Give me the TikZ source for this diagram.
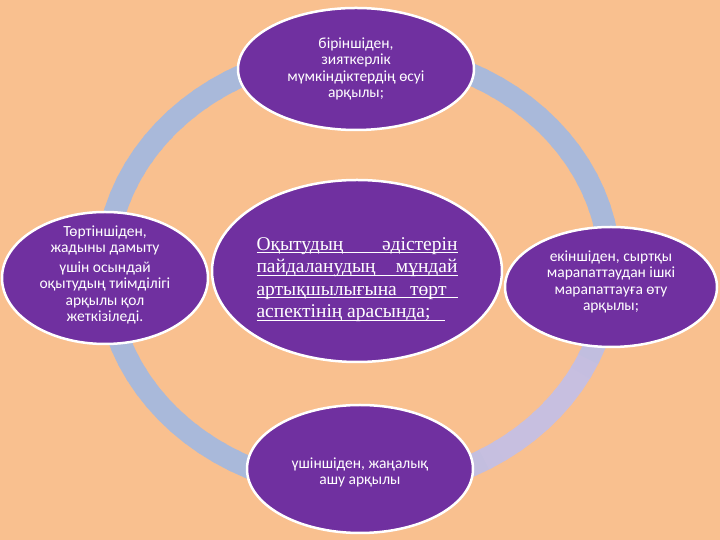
\documentclass[tikz,border=0pt]{standalone}
\usepackage{fontspec}
\setmainfont{Carlito}
\newfontfamily\serifcyr{Liberation Serif}
\usetikzlibrary{shapes.geometric}

% Underlined lines of the centre text
\newcommand{\ulwide}[2]{\makebox[#1][s]{#2}\llap{\rule[-3pt]{#1}{0.8pt}}}
\newcommand{\ulpart}[2]{\makebox[#1][l]{#2}\llap{\rule[-3pt]{#1}{0.8pt}}}

\begin{document}
\begin{tikzpicture}[x=1pt, y=1pt,
    aspect/.style={ellipse, fill=aspectFill, draw=white, line width=2.5pt,
        text=white, align=center, inner sep=-20pt,
        font=\fontsize{15.5}{16.5}\selectfont},
    mainidea/.style={aspect, align=left,
        font=\serifcyr\fontsize{19.5}{22.5}\selectfont}]
    % Define colours
    \definecolor{pageColour}{HTML}{F9C08F}
    \definecolor{aspectFill}{HTML}{7030A0}
    \definecolor{ringBlue}{HTML}{A9B9DA}
    \definecolor{ringLavender}{HTML}{C7BFE0}

    % Define ring size
    \def\ringRx{252}
    \def\ringRy{219}
    \def\ringWidth{22pt}

    % Page
    \useasboundingbox (0,0) rectangle (720,540);
    \fill[pageColour] (0,0) rectangle (720,540);

    % Draw the ring, lavender towards the lower right
    \coordinate (ringCentre) at (358,270);
    \foreach \a in {0,4,...,356} {
        \pgfmathsetmacro{\mixPct}{max(0,min(100,140-2.8*min(abs(\a-315),abs(\a+45))))}
        \draw[line width=\ringWidth, ringLavender!\mixPct!ringBlue]
            (ringCentre) ++(\a:{\ringRx} and {\ringRy})
            arc[start angle=\a, end angle=\a+5, x radius=\ringRx, y radius=\ringRy];
    }

    % Centre ellipse
    \node[mainidea, minimum width=290, minimum height=182] (mainIdea) at (357,269)
        {\rule{0pt}{30pt}\ulwide{201pt}{Оқытудың әдістерін}\\
         \ulwide{201pt}{пайдаланудың мұндай}\\
         \ulwide{201pt}{артықшылығына төрт\hspace*{11pt}}\\
         \ulpart{188pt}{аспектінің арасында;}};

    % The four aspects round the ring
    \node[aspect, minimum width=236, minimum height=122] (firstAspect) at (356,471)
        {біріншіден,\\ зияткерлік\\ мүмкіндіктердің өсуі\\ арқылы;};
    \node[aspect, minimum width=212, minimum height=120] (secondAspect) at (611,253)
        {екіншіден, сыртқы\\ марапаттаудан ішкі\\ марапаттауға өту\\ арқылы;\rule[-13pt]{0pt}{13pt}};
    \node[aspect, minimum width=226, minimum height=128] (thirdAspect) at (360,71)
        {\rule{0pt}{18pt}үшіншіден, жаңалық\\ ашу арқылы};
    \node[aspect, minimum width=206, minimum height=132] (fourthAspect) at (105,262)
        {Төртіншіден,\\ жадыны дамыту\\[3pt] үшін осындай\\ оқытудың тиімділігі\\ арқылы қол\\ жеткізіледі.\rule[-9pt]{0pt}{9pt}};

\end{tikzpicture}
\end{document}
